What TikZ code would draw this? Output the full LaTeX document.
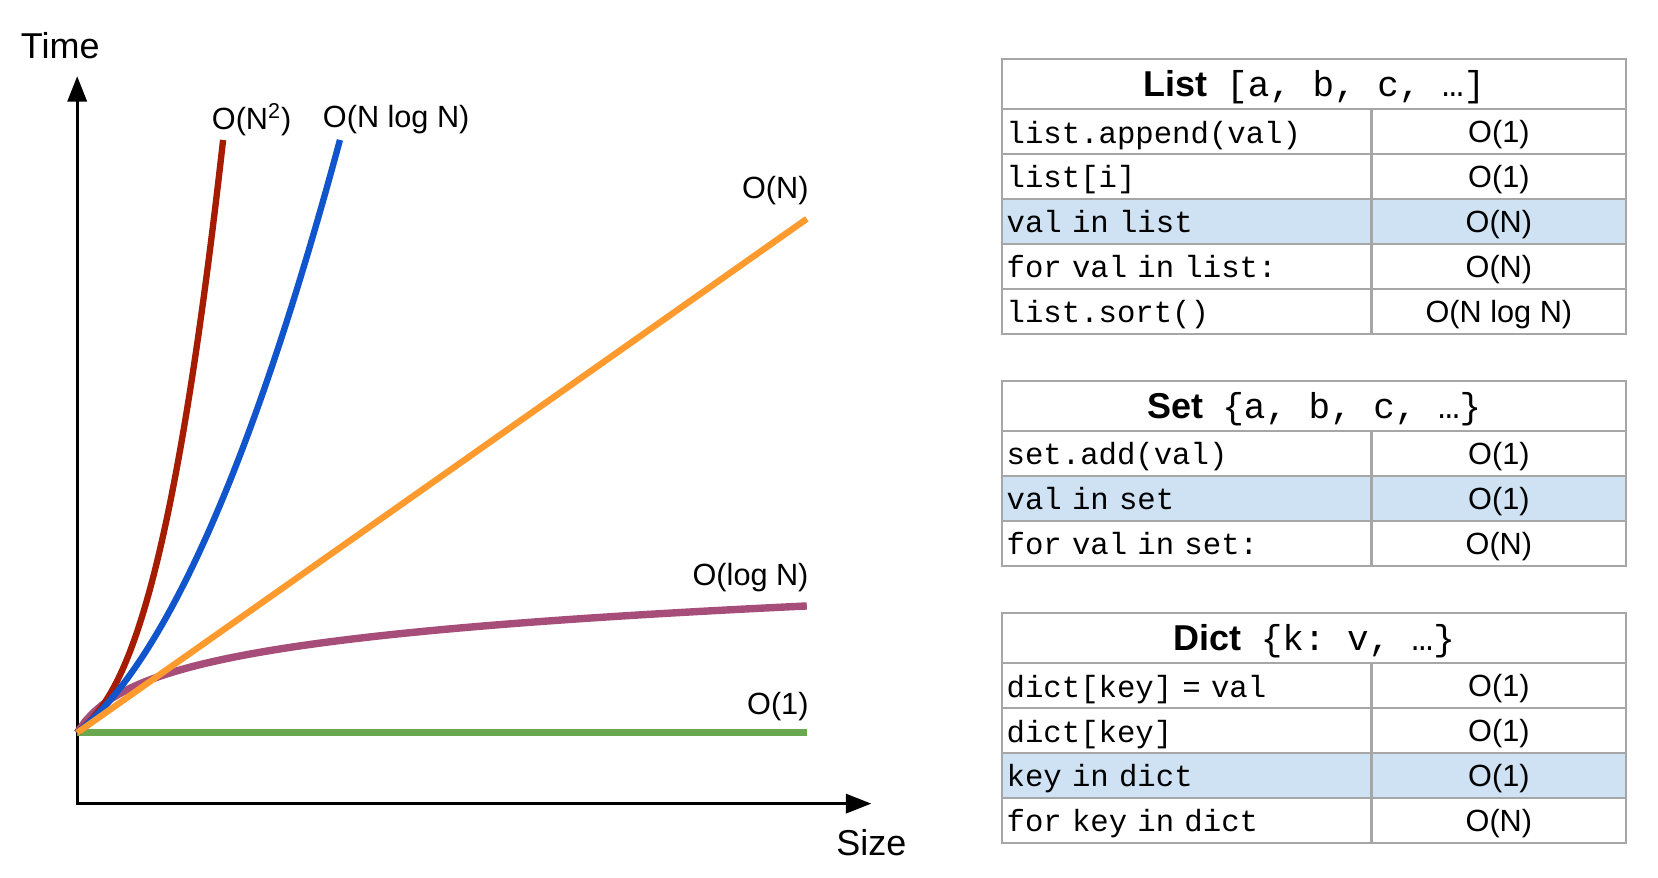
\documentclass[tikz,border=0pt]{standalone}
\usepackage{fontspec}
\setmainfont{Liberation Sans}
\setmonofont{Liberation Mono}
\usetikzlibrary{arrows.meta,positioning}
\definecolor{quadred}{HTML}{A61C00}
\definecolor{nlognblue}{HTML}{1155CC}
\definecolor{linorange}{HTML}{FF9A2E}
\definecolor{logpurple}{HTML}{A64D79}
\definecolor{constgreen}{HTML}{6AA84F}
\definecolor{rowblue}{HTML}{CFE2F3}
\definecolor{gridgray}{HTML}{A6A6A6}
\begin{document}
\begin{tikzpicture}[x=0.5pt,y=-0.5pt,
    axis/.style={line width=1.5pt,{Triangle[length=12pt,width=9pt]}-{Triangle[length=12pt,width=9pt]}},
    curve/.style={line width=3pt},
    big/.style={font=\fontsize{17}{20}\selectfont},
    lbl/.style={font=\fontsize{14.5}{17}\selectfont, inner sep=0pt},
    head/.style={draw=gridgray, line width=1pt, anchor=north west, outer sep=0pt, inner sep=0pt,
        minimum width=295pt, minimum height=23.5pt, text height=14pt, text depth=2pt,
        font=\fontsize{17}{20}\selectfont},
    op/.style={draw=gridgray, line width=1pt, anchor=north west, outer sep=0pt, inner sep=2pt,
        text width=170.5pt, align=left, minimum height=21.25pt, text height=14pt, text depth=3pt,
        font=\ttfamily\fontsize{14.5}{17}\selectfont},
    cost/.style={draw=gridgray, line width=1pt, anchor=north west, outer sep=0pt, inner sep=0pt,
        minimum width=120.5pt, minimum height=21.25pt, text height=12.5pt, text depth=2pt,
        font=\fontsize{14.5}{17}\selectfont},
    hl/.style={fill=rowblue}]
    \useasboundingbox (0,0) rectangle (1568,830);

    % Graph
    \coordinate (corner) at (73,760);
    \coordinate (ytip) at (73,72);
    \coordinate (xtip) at (824,760);
    \coordinate (start) at (73,693);
    \draw[axis] (ytip) -- (corner) -- (xtip);
    \node[big] (time) at (57,43) {Time};
    \node[big] (size) at (824,797) {Size};
    \draw[curve, constgreen, line width=3.2pt] (start) -- (763,693) coordinate (constend);
    \draw[curve, logpurple, line width=3.5pt] plot[domain=73:763, samples=90] (\x,{693-33.6*ln(1+0.05*(\x-73))});
    \draw[curve, quadred] (start) -- plot[domain=73.5:211, samples=60] (\x,{693-0.837*(\x-73)-199*pow((\x-73)/100,2.5)});
    \draw[curve, nlognblue] plot[domain=73:321.5, samples=60] (\x,{693-0.806*(\x-73)-58.36*((\x-73)/100)^2});
    \draw[curve, linorange] (start) -- (763,207) coordinate (linend);
    \node[lbl, anchor=east] (lconst) at (765,668) {O(1)};
    \node[lbl, anchor=east] (llog) at (765,546) {O(log N)};
    \node[lbl, anchor=east] (llin) at (765,180) {O(N)};
    \node[lbl, anchor=west] (lnlogn) at (305,113) {O(N log N)};
    \node[lbl, anchor=west] (lquad) at (200,113) {O(N\textsuperscript{2})};

    % List
    \node[head] (listhead) at (948,56) {\textbf{List}\hspace{9pt}\texttt{[a, b, c, …]}};
    \node[op] (la) at (listhead.south west) {list.append(val)};
    \node[cost] (lac) at (la.north east) {O(1)};
    \node[op] (lb) at (la.south west) {list[i]};
    \node[cost] (lbc) at (lb.north east) {O(1)};
    \node[op, hl] (lc) at (lb.south west) {val in list};
    \node[cost, hl] (lcc) at (lc.north east) {O(N)};
    \node[op] (ld) at (lc.south west) {for val in list:};
    \node[cost] (ldc) at (ld.north east) {O(N)};
    \node[op] (le) at (ld.south west) {list.sort()};
    \node[cost] (lec) at (le.north east) {O(N log N)};

    % Set
    \node[head, below=22.5pt of le.south west, anchor=north west] (sethead) {\textbf{Set}\hspace{9pt}\texttt{\{a, b, c, …\}}};
    \node[op] (sa) at (sethead.south west) {set.add(val)};
    \node[cost] (sac) at (sa.north east) {O(1)};
    \node[op, hl] (sb) at (sa.south west) {val in set};
    \node[cost, hl] (sbc) at (sb.north east) {O(1)};
    \node[op] (sc) at (sb.south west) {for val in set:};
    \node[cost] (scc) at (sc.north east) {O(N)};

    % Dict
    \node[head, below=22.5pt of sc.south west, anchor=north west] (dicthead) {\textbf{Dict}\hspace{9pt}\texttt{\{k: v, …\}}};
    \node[op] (da) at (dicthead.south west) {dict[key] = val};
    \node[cost] (dac) at (da.north east) {O(1)};
    \node[op] (db) at (da.south west) {dict[key]};
    \node[cost] (dbc) at (db.north east) {O(1)};
    \node[op, hl] (dc) at (db.south west) {key in dict};
    \node[cost, hl] (dcc) at (dc.north east) {O(1)};
    \node[op] (dd) at (dc.south west) {for key in dict};
    \node[cost] (ddc) at (dd.north east) {O(N)};
\end{tikzpicture}
\end{document}
